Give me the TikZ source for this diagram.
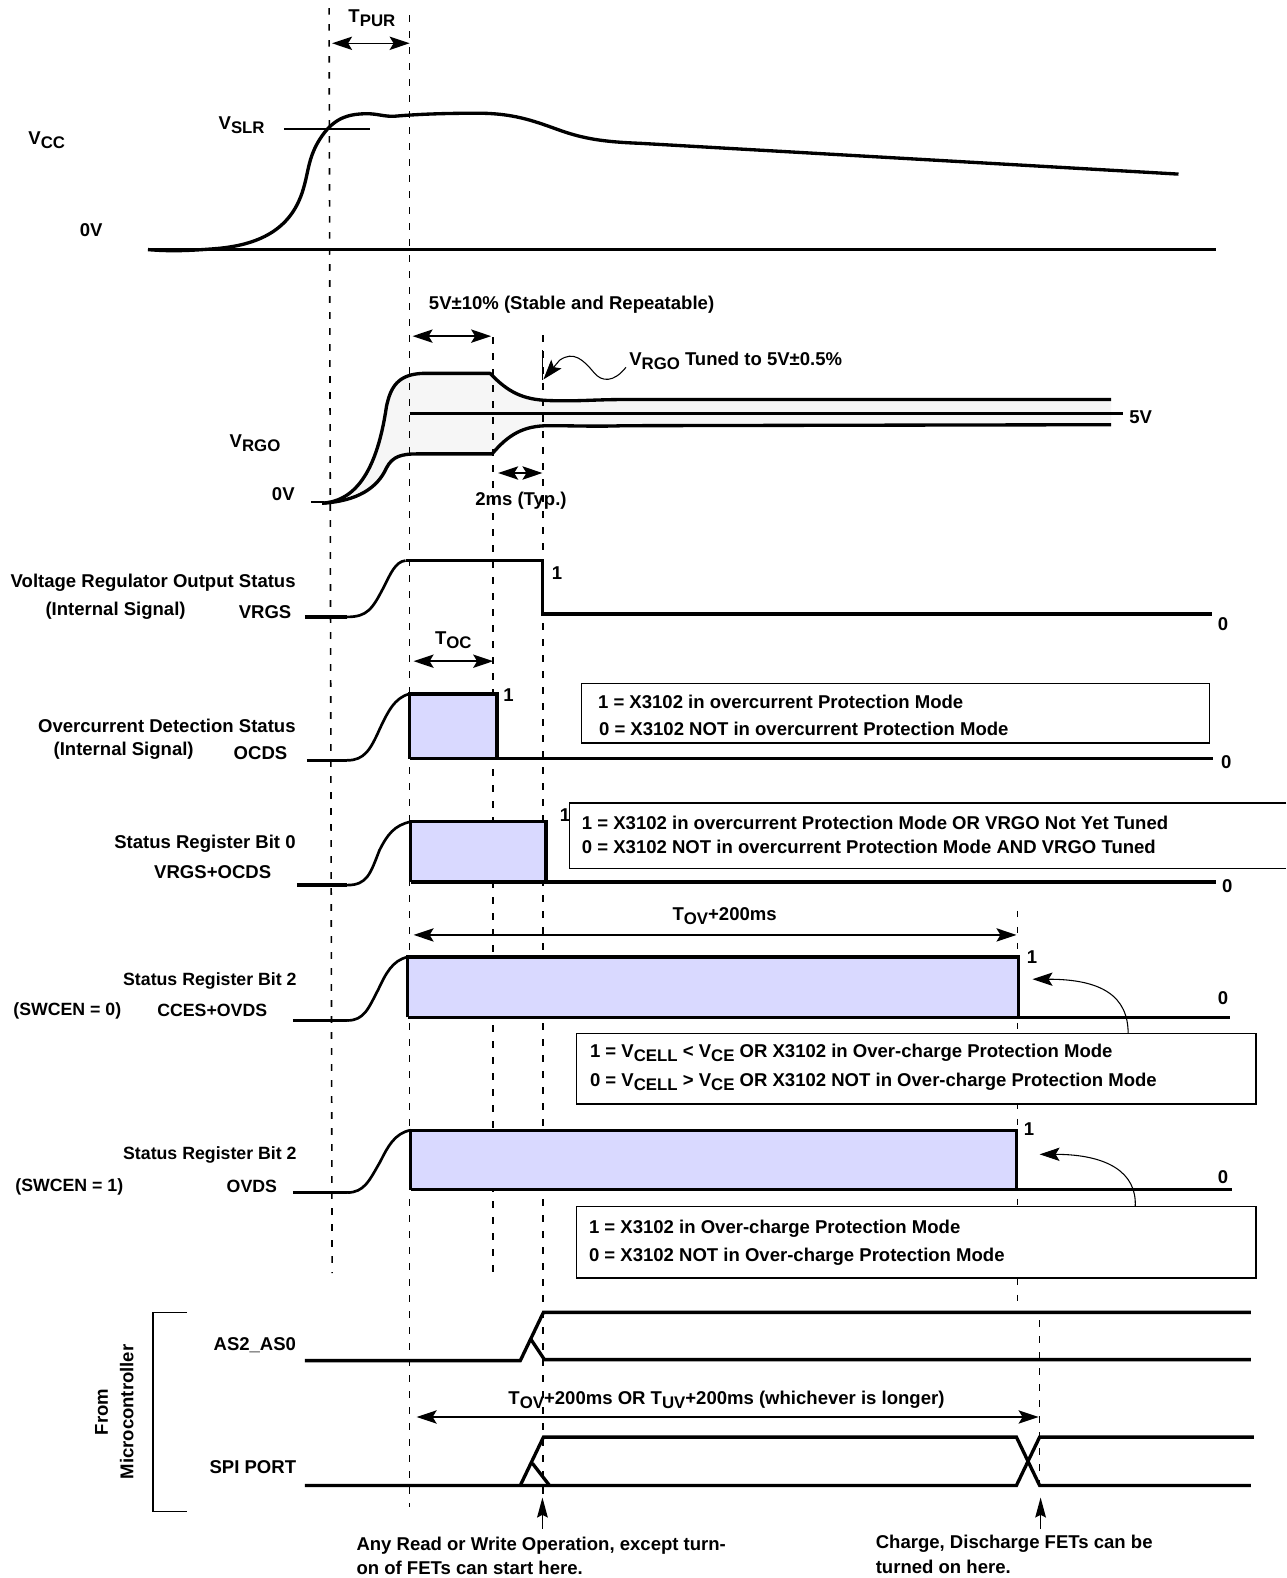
\documentclass[tikz,border=0pt]{standalone}
\usepackage{fontspec}
\setmainfont{Liberation Sans}
\usetikzlibrary{arrows.meta}
\newcommand\lo[1]{\raisebox{-0.4ex}{\fontsize{12.6}{14}\selectfont #1}}
\definecolor{lav}{HTML}{D9D9FF}
\definecolor{pale}{HTML}{F6F6F6}
\tikzset{
  wave/.style={line width=2.5pt,line join=miter},
  rise/.style={line width=2pt,line join=round},
  guide/.style={line width=1.2pt,dash pattern=on 5pt off 7pt},
  thinline/.style={line width=1.2pt},
  dim/.style={line width=1.1pt,{Stealth[length=15pt,width=10pt,inset=3pt]}-{Stealth[length=15pt,width=10pt,inset=3pt]}},
  callout/.style={line width=.8pt,-{Stealth[length=15pt,width=10pt,inset=3pt]}},
  upar/.style={line width=1.1pt,-{Stealth[length=15pt,width=8pt,inset=2pt]}},
  lb/.style={inner sep=0pt,anchor=west,font=\fontsize{13.9}{16}\selectfont\bfseries},
  lbs/.style={inner sep=0pt,anchor=west,font=\fontsize{13.3}{16}\selectfont\bfseries},
  lbe/.style={lb,anchor=east},
  lbse/.style={lbs,anchor=east},
  lbc/.style={lb,anchor=center},
  note/.style={line width=1.2pt,fill=white,draw=black},
}
\begin{document}
\begin{tikzpicture}[x=.7547pt,y=-.7547pt]
\useasboundingbox (0,0) rectangle (1278,1568);
\fill[white] (0,0) rectangle (1278,1568);

% VRGO band fill (under the guides)
\fill[pale] (320,500) .. controls (355,498) and (375,465) .. (384,404) .. controls (388,385) and (395,372) .. (420,371) -- (487,371) .. controls (505,390) and (520,397) .. (545,398) -- (1104,397) -- (1104,422) -- (545,423) .. controls (520,423) and (505,432) .. (489,451) -- (415,451) .. controls (400,451) and (390,453) .. (384,465) .. controls (375,485) and (355,498) .. (320,500) -- cycle;

% guides
\coordinate (g1t) at (327,8);    \coordinate (g1b) at (330,1265);
\coordinate (g2t) at (407,15);   \coordinate (g2b) at (407,1497);
\coordinate (g3t) at (490,335);  \coordinate (g3b) at (490,1267);
\coordinate (g4t) at (539.5,333);\coordinate (g4b) at (539.5,1490);
\coordinate (g5t) at (1011,905); \coordinate (g5b) at (1011,1295);
\coordinate (g6t) at (1033,1312);\coordinate (g6b) at (1033,1482);
\draw[guide] (g1t)--(g1b);
\draw[guide] (g2t)--(g2b);
\draw[guide] (g3t)--(g3b);
\draw[guide] (g4t)--(g4b);
\draw[guide] (g5t)--(g5b);
\draw[guide] (g6t)--(g6b);

% VCC
\draw[wave] (148,248)--(1208,248);
\draw[wave,line join=round] (147,248) .. controls (170,250) and (190,249) .. (215,247) .. controls (262,243) and (290,225) .. (301,189) .. controls (307,170) and (306,155) .. (320,135) .. controls (332,118) and (345,113) .. (365,113) .. controls (375,113) and (382,116) .. (392,115.5) .. controls (420,113) and (450,112.5) .. (475,112.5) .. controls (510,112.5) and (530,120) .. (555,129) .. controls (580,138) and (600,141) .. (636,142.4) -- (1171,173);
\draw[thinline] (282,128)--(368,128);

% VRGO
\draw[wave,line join=round] (320,500) .. controls (355,498) and (375,465) .. (384,404) .. controls (388,385) and (395,372) .. (420,371) -- (487,371) .. controls (505,390) and (520,397) .. (545,398) .. controls (575,399) and (590,397) .. (620,397) -- (1104,397);
\draw[wave,line join=round] (320,500) .. controls (355,498) and (375,485) .. (384,465) .. controls (390,453) and (400,451) .. (415,451) -- (489,451) .. controls (505,432) and (520,423) .. (545,423) .. controls (575,423) and (590,424) .. (620,423) -- (1104,422);
\draw[wave] (407,411)--(1116,411);
\draw[thinline] (309,499)--(322,499);
\draw[thinline] (539,348)--(539,378);
\coordinate (tunefrom) at (622,365);
\coordinate (tuneto) at (540,377);
\draw[callout] (tunefrom) .. controls (610,380) and (598,380) .. (590,370) .. controls (580,358) and (570,348) .. (556,358) -- (tuneto);

% VRGS
\draw[wave] (303,613)--(345,613);
\draw[rise] (345,613) .. controls (365,613) and (370,605) .. (381,584) .. controls (388,570) and (393,558) .. (403,557);
\draw[wave] (403,557) -- (539,557) -- (539,610) -- (1204,610);

% OCDS
\fill[lav] (407,689.5) rectangle (494,754);
\draw[wave] (305,755.5)--(345,755.5);
\draw[rise] (345,755.5) .. controls (362,755.5) and (368,745) .. (377,725) .. controls (385,708) and (392,693) .. (407,689.5);
\draw[wave] (407,754)--(407,689.5)--(494,689.5)--(494,754);
\draw[wave] (407,754)--(1205,754);

% Bit 0
\fill[lav] (408,816.5) rectangle (542.6,876.5);
\draw[wave] (295,879.5)--(345,879.5);
\draw[rise] (345,879.5) .. controls (365,879.5) and (368,868) .. (377,845) .. controls (385,829) and (392,820) .. (408,816.5);
\draw[wave] (408,876.5)--(408,816.5)--(542.6,816.5)--(542.6,876.5);
\draw[wave] (408,876.5)--(1208,876.5);

% Bit 2 a
\fill[lav] (405,951) rectangle (1012,1011);
\draw[wave] (291,1014)--(345,1014);
\draw[rise] (345,1014) .. controls (362,1014) and (366,1002) .. (376,983) .. controls (383,968) and (390,954) .. (405,951);
\draw[wave] (405,1011)--(405,951)--(1012,951)--(1012,1011);
\draw[wave] (405,1011)--(1222,1011);

% Bit 2 b
\fill[lav] (408,1123) rectangle (1010,1182);
\draw[wave] (291,1185)--(345,1185);
\draw[rise] (345,1185) .. controls (362,1185) and (367,1173) .. (378,1154) .. controls (385,1140) and (392,1126) .. (408,1123);
\draw[wave] (408,1182)--(408,1123)--(1010,1123)--(1010,1182);
\draw[wave] (408,1182)--(1224,1182);

% AS2_AS0
\draw[wave] (303,1352)--(517,1352)--(540,1304)--(1243,1304);
\draw[wave] (527,1330)--(541,1351)--(1243,1351);

% SPI PORT
\draw[wave] (303,1476)--(1010,1476)--(1033,1428)--(1246,1428);
\draw[wave] (517,1476)--(540,1428)--(1010,1428)--(1033,1476)--(1243,1476);
\draw[wave] (529,1454)--(546,1476);

% bracket
\draw[thinline] (186,1304)--(152,1304)--(152,1502)--(186,1502);

% dimension arrows
\coordinate (d1a) at (330,43);  \coordinate (d1b) at (407,43);
\coordinate (d2a) at (410,334); \coordinate (d2b) at (488,334);
\coordinate (d3a) at (495,470); \coordinate (d3b) at (539,470);
\coordinate (d4a) at (411,657); \coordinate (d4b) at (490,657);
\coordinate (d5a) at (411,929); \coordinate (d5b) at (1010,929);
\coordinate (d6a) at (414,1408);\coordinate (d6b) at (1032,1408);
\draw[dim] (d1a)--(d1b);
\draw[dim] (d2a)--(d2b);
\draw[dim] (d3a)--(d3b);
\draw[dim] (d4a)--(d4b);
\draw[dim] (d5a)--(d5b);
\draw[dim] (d6a)--(d6b);

% up arrows
\coordinate (u1a) at (539,1519); \coordinate (u1b) at (539,1488);
\coordinate (u2a) at (1034,1519);\coordinate (u2b) at (1034,1488);
\draw[upar] (u1a)--(u1b);
\draw[upar] (u2a)--(u2b);

% note boxes
\draw[note] (578,679) rectangle (1202,738);
\draw[note] (1278,798)--(566,798)--(566,863)--(1278,863);
\draw[note] (573,1027) rectangle (1248,1097);
\draw[note] (573,1199) rectangle (1248,1270);

% callouts from boxes
\coordinate (c1) at (1026,973);
\coordinate (c2) at (1033,1147);
\coordinate (c1s) at (1121,1027);
\coordinate (c2s) at (1128,1199);
\draw[callout] (c1s) .. controls (1121,990) and (1095,973) .. (c1);
\draw[callout] (c2s) .. controls (1130,1165) and (1100,1147) .. (c2);

% labels
\node[lb] (vcc) at (28,139) {V\lo{CC}};
\node[lb] (zero1) at (79,229) {0V};
\node[lb] (vslr) at (217,124) {V\lo{SLR}};
\node[lb] (tpur) at (346,18) {T\lo{PUR}};
\node[lb] (stable) at (426,303) {5V±10\% (Stable and Repeatable)};
\node[lb] (tuned) at (625,359) {V\lo{RGO} Tuned to 5V±0.5\%};
\node[lb] (five) at (1122,415) {5V};
\node[lb] (vrgo) at (228,440) {V\lo{RGO}};
\node[lb] (zero2) at (270,491) {0V};
\node[lb] (typ) at (472,498) {2ms (Typ.)};

\node[lbe] (vrs1) at (294,579) {Voltage Regulator Output Status};
\node[lb] (int1) at (45,607) {(Internal Signal)};
\node[lb] (vrgs) at (237,608) {VRGS};
\node[lb] (v1) at (548,569) {1};
\node[lb] (v0) at (1210,620) {0};

\node[lb] (toc) at (432,636) {T\lo{OC}};
\node[lbe] (ocs) at (294,721) {Overcurrent Detection Status};
\node[lb] (int2) at (53,746) {(Internal Signal)};
\node[lb] (ocds) at (232,748) {OCDS};
\node[lb] (o1) at (500,691) {1};
\node[lb] (o0) at (1213,757) {0};
\node[lb] (bt1a) at (594,697) {1 = X3102 in overcurrent Protection Mode};
\node[lb] (bt1b) at (595,724) {0 = X3102 NOT in overcurrent Protection Mode};

\node[lbe] (sr0) at (294,838) {Status Register Bit 0};
\node[lb] (vo) at (153,867) {VRGS+OCDS};
\node[lb] (b1) at (556,810) {1};
\node[lb] (b0) at (1214,880) {0};
\node[lb] (bt2a) at (578,818) {1 = X3102 in overcurrent Protection Mode OR VRGO Not Yet Tuned};
\node[lb] (bt2b) at (578,842) {0 = X3102 NOT in overcurrent Protection Mode AND VRGO Tuned};

\node[lb] (tov) at (668,910) {T\lo{OV}+200ms};
\node[lbse] (sr2a) at (295,975) {Status Register Bit 2};
\node[lbs] (sw0) at (13,1004) {(SWCEN = 0)};
\node[lbs] (cces) at (156,1004) {CCES+OVDS};
\node[lb] (c21) at (1020,951) {1};
\node[lb] (c20) at (1210,992) {0};
\node[lb] (bt3a) at (586,1046) {1 = V\lo{CELL} < V\lo{CE} OR X3102 in Over-charge Protection Mode};
\node[lb] (bt3b) at (586,1075) {0 = V\lo{CELL} > V\lo{CE} OR X3102 NOT in Over-charge Protection Mode};

\node[lbse] (sr2b) at (295,1148) {Status Register Bit 2};
\node[lbs] (sw1) at (15,1179) {(SWCEN = 1)};
\node[lbs] (ovds) at (225,1179) {OVDS};
\node[lb] (d21) at (1017,1122) {1};
\node[lb] (d20) at (1210,1170) {0};
\node[lb] (bt4a) at (585,1221) {1 = X3102 in Over-charge Protection Mode};
\node[lb] (bt4b) at (585,1249) {0 = X3102 NOT in Over-charge Protection Mode};

\node[lb] (as2) at (212,1337) {AS2\_AS0};
\node[lb] (spi) at (208,1458) {SPI PORT};
\node[lbc,rotate=90] (from) at (101,1403) {From};
\node[lbc,rotate=90] (micro) at (126,1403) {Microcontroller};
\node[lb] (tovuv) at (505,1391) {T\lo{OV}+200ms OR T\lo{UV}+200ms (whichever is longer)};
\node[lb] (any1) at (354,1536) {Any Read or Write Operation, except turn-};
\node[lb] (any2) at (354,1558) {on of FETs can start here.};
\node[lb] (chg1) at (870,1534) {Charge, Discharge FETs can be};
\node[lb] (chg2) at (870,1557) {turned on here.};
\end{tikzpicture}
\end{document}
